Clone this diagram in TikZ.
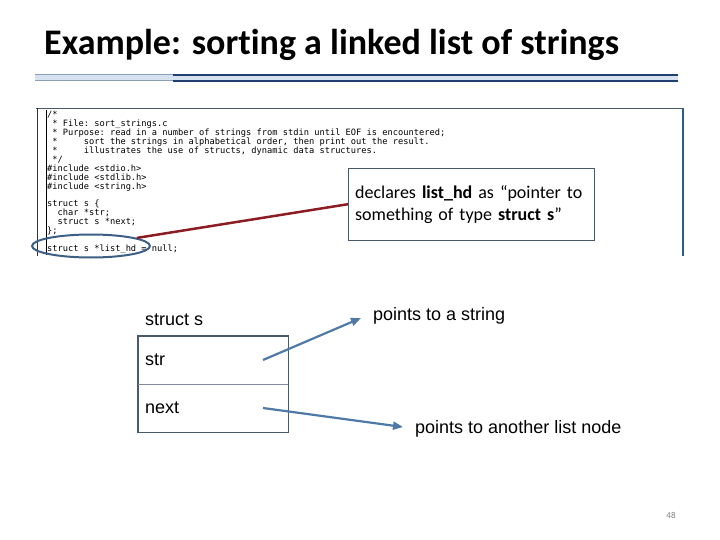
\documentclass[tikz,border=0pt]{standalone}
\usepackage{fontspec}
\setmainfont{Carlito}[Ligatures=CommonOff]
\newfontfamily\arialfont{Liberation Sans}
\newfontfamily\codefont{DejaVu Sans Mono}
\usetikzlibrary{positioning}
\usetikzlibrary{arrows.meta,shapes.geometric}
\definecolor{slidenavy}{RGB}{31,63,115}
\definecolor{slidepale}{RGB}{214,226,240}
\definecolor{rulegray}{RGB}{140,160,190}
\definecolor{linkblue}{RGB}{79,122,168}
\definecolor{ringblue}{RGB}{61,95,133}
\definecolor{framblue}{RGB}{46,93,130}
\definecolor{calloutred}{RGB}{140,28,36}
\definecolor{boxgray}{RGB}{74,90,106}

\begin{document}
\begin{tikzpicture}[x=1pt,y=-1pt,
		every node/.style={inner sep=0pt},
		lbl/.style={font=\arialfont\fontsize{18}{21}\selectfont, anchor=west},
		field/.style={anchor=north west, minimum width=150pt, minimum height=48pt,
			text width=136pt, inner xsep=7pt, align=left,
			font=\arialfont\fontsize{18}{21}\selectfont},
		callout/.style={draw=boxgray, fill=white, anchor=north west,
			minimum width=246pt, minimum height=72pt, text width=232pt,
			inner xsep=7pt, align=left, font=\fontsize{18}{22}\selectfont},
		ring/.style={draw=ringblue, line width=2pt, ellipse,
			minimum width=118pt, minimum height=23pt},
		link/.style={-{Triangle[length=10pt,width=8pt]}, linkblue, line width=2.2pt}
	]

	\def\cs{\hspace*{0.602em}}

	\useasboundingbox (0,0) rectangle (720,540);

	\node[anchor=base west, font=\bfseries\fontsize{36}{42}\selectfont] (title) at (44,55)
		{Example: sorting a linked list of strings};

	\fill[slidepale] (35,75) rectangle (678,81);
	\draw[rulegray, line width=1pt] (35,75) -- (173,75) (35,81) -- (173,81);
	\draw[slidenavy, line width=1.2pt] (173,75) -- (678,75) (173,81) -- (678,81);

	% source listing
	\draw[boxgray, thin] (36,108) -- (683,108);
	\draw[black!80, thin] (37,108) -- (37,256);
	\draw[black, thin] (46,110) -- (46,255);
	\draw[framblue, line width=2pt] (683,108) -- (683,256);

	\node[anchor=north west, align=left, font=\codefont\frenchspacing\fontsize{8.7}{8.93}\selectfont] (code) at (47,111) {%
		/*\\
		\cs* File: sort\_strings.c\\
		\cs* Purpose: read in a number of strings from stdin until EOF is encountered;\\
		\cs*\cs\cs\cs\cs\cs sort the strings in alphabetical order, then print out the result.\\
		\cs*\cs\cs\cs\cs\cs illustrates the use of structs, dynamic data structures.\\
		\cs*/\\
		\#include <stdio.h>\\
		\#include <stdlib.h>\\
		\#include <string.h>\\
		\mbox{}\\
		struct s \{\\
		\cs\cs char *str;\\
		\cs\cs struct s *next;\\
		\};\\
		\mbox{}\\
		struct s *list\_hd = null;};

	\node[ring] (hd) at (91,246) {};

	\node[callout] (callout) at (348,168)
		{declares \textbf{list\_hd} as “pointer to\\something of type \textbf{struct s}”};

	\draw[calloutred, line width=2.5pt] (hd.10) -- (callout.west);

	% struct s box
	\node[lbl] (sname) at (145,320) {struct s};
	\node[field] (strf) at (138,336) {str};
	\node[field] (nextf) at (138,384) {next};
	\draw[boxgray, line width=1.5pt] (strf.north west) rectangle (nextf.south east);
	\draw[boxgray!70, thin] (strf.south west) -- (strf.south east);

	\node[lbl] (strlbl) at (373,316) {points to a string};
	\node[lbl] (nextlbl) at (415,429) {points to another list node};

	\coordinate (strtail) at (263,360);
	\coordinate (strtip) at (361,318);
	\coordinate (nexttail) at (263,408);
	\coordinate (nexttip) at (403,427);

	\draw[link] (strtail) -- (strtip);
	\draw[link] (nexttail) -- (nexttip);

	\node[gray, font=\fontsize{9}{11}\selectfont] (pageno) at (671,515) {48};

\end{tikzpicture}
\end{document}
